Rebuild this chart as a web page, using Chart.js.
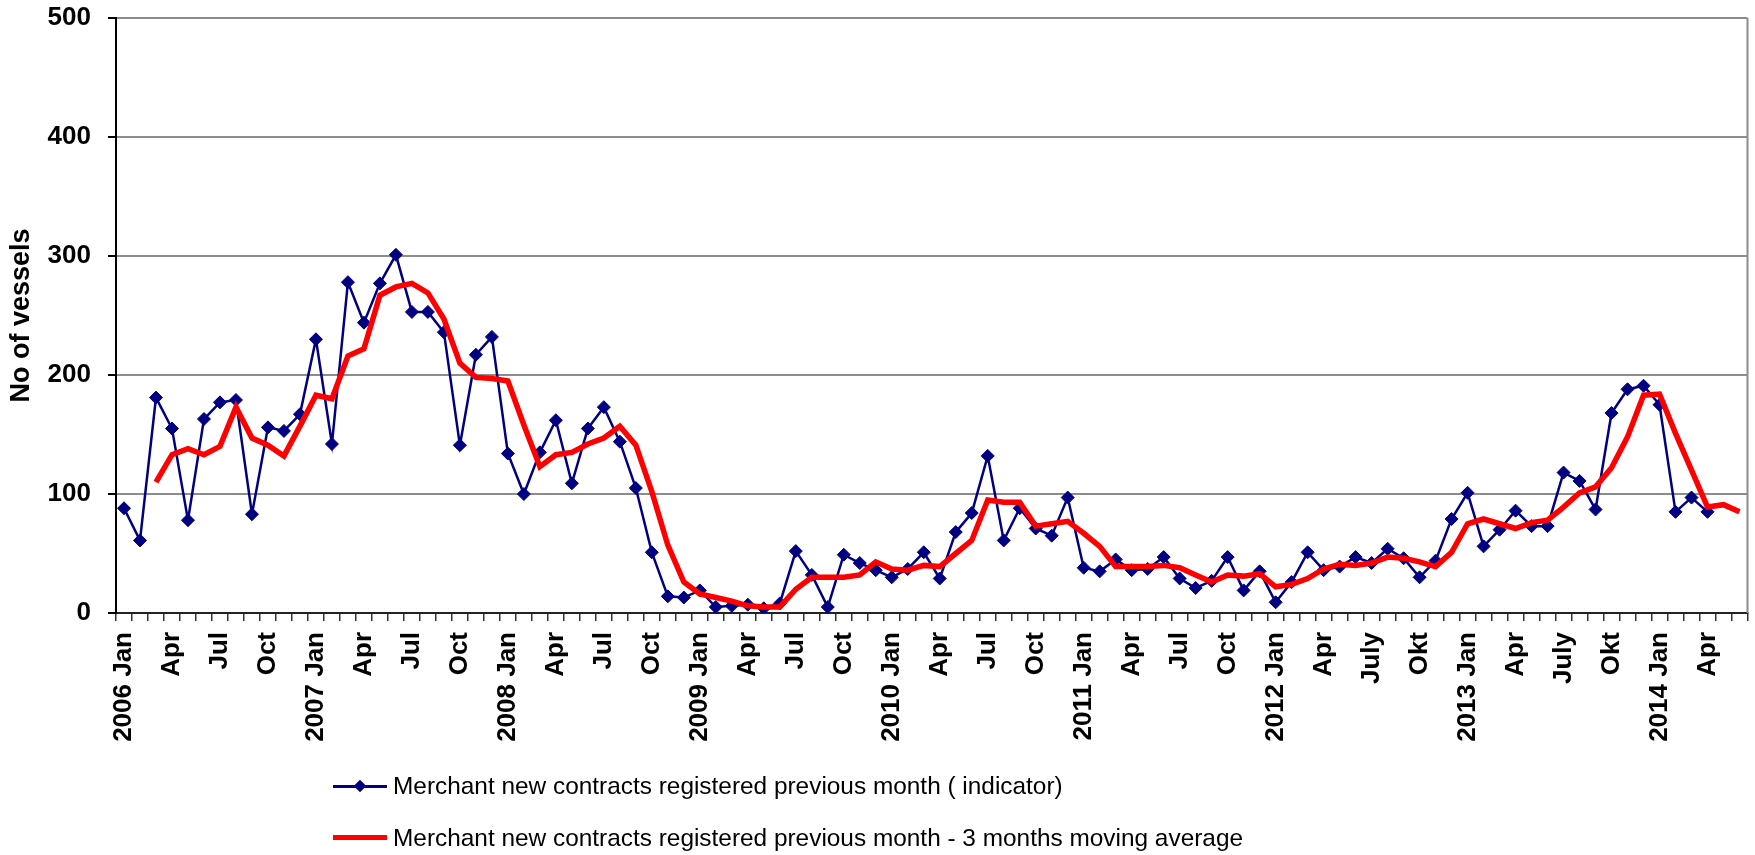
<!DOCTYPE html>
<html>
<head>
<meta charset="utf-8">
<title>Merchant new contracts</title>
<script src="https://cdn.jsdelivr.net/npm/chart.js@4/dist/chart.umd.min.js"></script>
<style>
  body { margin: 0; background: #fff; }
  #wrap { position: relative; width: 1755px; height: 855px; }
  #legend { position: absolute; left: 333px; top: 772px; font-family: "Liberation Sans", Arial, sans-serif; font-size: 24.4px; color: #000; }
  .row { display: flex; align-items: center; height: 28px; line-height: 28px; white-space: nowrap; }
  .row + .row { margin-top: 23.6px; }
  .swatch { position: relative; width: 54px; margin-right: 6px; }
  .diamond { position: absolute; left: 50%; top: 50%; width: 9px; height: 9px; transform: translate(-50%, -50%) rotate(45deg); }
</style>
</head>
<body>
<div id="wrap">
  <canvas id="myChart" width="1755" height="855"></canvas>
  <div id="legend"></div>
</div>
<script>
let tick_labels = [
  '2006 Jan', '', '', 'Apr', '', '', 'Jul', '', '', 'Oct', '', '',
  '2007 Jan', '', '', 'Apr', '', '', 'Jul', '', '', 'Oct', '', '',
  '2008 Jan', '', '', 'Apr', '', '', 'Jul', '', '', 'Oct', '', '',
  '2009 Jan', '', '', 'Apr', '', '', 'Jul', '', '', 'Oct', '', '',
  '2010 Jan', '', '', 'Apr', '', '', 'Jul', '', '', 'Oct', '', '',
  '2011 Jan', '', '', 'Apr', '', '', 'Jul', '', '', 'Oct', '', '',
  '2012 Jan', '', '', 'Apr', '', '', 'July', '', '', 'Okt', '', '',
  '2013 Jan', '', '', 'Apr', '', '', 'July', '', '', 'Okt', '', '',
  '2014 Jan', '', '', 'Apr', '', ''
]

let indicator = [
  88, 61, 181, 155, 78, 163, 177, 179, 83, 156, 153, 167,
  230, 142, 278, 244, 277, 301, 253, 253, 236, 141, 217, 232,
  134, 100, 135, 162, 109, 155, 173, 144, 105, 51, 14, 13,
  19, 5, 6, 7, 4, 8, 52, 32, 5, 49, 42, 36,
  30, 37, 51, 29, 68, 84, 132, 61, 88, 71, 65, 97,
  38, 35, 45, 36, 37, 47, 29, 21, 27, 47, 19, 35,
  9, 26, 51, 36, 39, 47, 42, 54, 46, 30, 44, 79,
  101, 56, 70, 86, 73, 73, 118, 111, 87, 168, 188, 191,
  175, 85, 97, 85, null, null
]

let moving_avg = [
  null, null, 110, 133, 138, 133, 140, 173, 147, 141, 132, 157,
  183, 180, 216, 222, 267, 274, 277, 269, 247, 210, 198, 197,
  195, 158, 123, 133, 135, 142, 147, 157, 141, 102, 57, 26,
  16, 13, 10, 6, 5, 5, 20, 30, 30, 30, 32, 43,
  37, 36, 40, 39, 50, 61, 95, 93, 93, 73, 75, 77,
  67, 56, 39, 39, 39, 40, 38, 32, 26, 32, 31, 33,
  22, 24, 29, 37, 41, 40, 42, 47, 46, 43, 39, 51,
  75, 79, 75, 71, 76, 78, 89, 101, 106, 122, 148, 183,
  184, 151, 120, 89, 91, 85
]

let y_ticks = [0, 100, 200, 300, 400, 500]

let font_family = '"Liberation Sans", Arial, sans-serif'

// right edge of the plot area
let plot_border = {
  id: 'plot_border',
  beforeDatasetsDraw(chart) {
    let ctx = chart.ctx
    let a = chart.chartArea
    ctx.save()
    ctx.strokeStyle = '#8c8c8c'
    ctx.lineWidth = 2
    ctx.beginPath()
    ctx.moveTo(a.right, a.top)
    ctx.lineTo(a.right, a.bottom)
    ctx.stroke()
    ctx.restore()
  }
}

let ctx = document.getElementById('myChart').getContext('2d')

let myChart = new Chart(ctx, {
  type: 'line',
  data: {
    labels: tick_labels,
    datasets: [{
      label: 'Merchant new contracts registered previous month ( indicator)',
      data: indicator,
      borderColor: '#000080',
      backgroundColor: '#000080',
      borderWidth: 2.5,
      pointStyle: 'rectRot',
      pointRadius: 6.5,
      pointBorderWidth: 1,
      pointBackgroundColor: '#000080',
      pointBorderColor: '#000080',
      tension: 0,
      order: 1
    }, {
      label: 'Merchant new contracts registered previous month - 3 months moving average',
      data: moving_avg,
      borderColor: '#ff0000',
      backgroundColor: '#ff0000',
      borderWidth: 5.5,
      pointRadius: 0,
      tension: 0,
      order: 0
    }]
  },
  options: {
    responsive: false,
    animation: false,
    devicePixelRatio: 1,
    layout: {
      padding: { left: 0, right: 3, top: 18, bottom: 102 }
    },
    plugins: {
      legend: { display: false },
      tooltip: { enabled: false }
    },
    scales: {
      x: {
        offset: true,
        grid: {
          offset: true,
          drawOnChartArea: false,
          drawTicks: true,
          tickLength: 8,
          color: '#333',
          lineWidth: 1.5
        },
        border: { display: true, color: '#222', width: 2 },
        ticks: {
          autoSkip: false,
          maxRotation: 90,
          minRotation: 90,
          padding: 11,
          color: '#000',
          font: { family: font_family, size: 26, weight: 'bold' }
        },
        afterFit(scale) {
          scale.height = 140
          scale.paddingLeft = 0
          scale.paddingRight = 0
        }
      },
      y: {
        min: 0,
        max: 500,
        afterBuildTicks(scale) {
          scale.ticks = y_ticks.map(v => ({ value: v }))
        },
        grid: {
          color: '#8c8c8c',
          lineWidth: 2,
          tickLength: 8,
          tickColor: '#000'
        },
        border: { display: true, color: '#000', width: 2 },
        ticks: {
          padding: 17,
          color: '#000',
          font: { family: font_family, size: 26, weight: 'bold' }
        },
        title: {
          display: true,
          text: 'No of vessels',
          color: '#000',
          padding: { top: 5.5, bottom: 0 },
          font: { family: font_family, size: 27, weight: 'bold' }
        },
        afterFit(scale) {
          scale.width = 116
          scale.paddingTop = 0
          scale.paddingBottom = 0
        }
      }
    }
  },
  plugins: [plot_border]
})

// html legend, one row per series
let legend_div = document.getElementById('legend')
myChart.data.datasets.forEach(ds => {
  let row = document.createElement('div')
  row.className = 'row'
  let swatch = document.createElement('span')
  swatch.className = 'swatch'
  swatch.style.height = ds.pointRadius ? '3px' : '5px'
  swatch.style.background = ds.borderColor
  if (ds.pointRadius) {
    let d = document.createElement('span')
    d.className = 'diamond'
    d.style.background = ds.borderColor
    swatch.appendChild(d)
  }
  let txt = document.createElement('span')
  txt.textContent = ds.label
  row.appendChild(swatch)
  row.appendChild(txt)
  legend_div.appendChild(row)
})
</script>
</body>
</html>
